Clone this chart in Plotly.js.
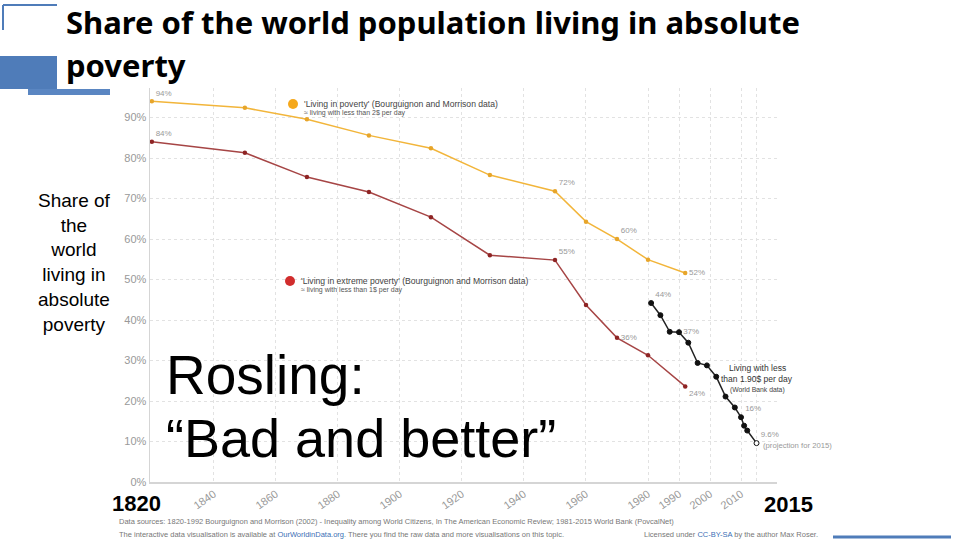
<!DOCTYPE html>
<html>
<head>
<meta charset="utf-8">
<script src="https://cdn.plot.ly/plotly-3.0.1.min.js"></script>
<style>html,body{margin:0;padding:0;background:#fff;}#chart{width:960px;height:540px;}</style>
</head>
<body>
<div id="chart"></div>
<script>
// ---- data ----
const bmYears = [1820, 1850, 1870, 1890, 1910, 1929, 1950, 1960, 1970, 1980, 1992];
const povertyValues = [94, 92.4, 89.6, 85.6, 82.4, 75.8, 71.8, 64.3, 60, 54.9, 51.6];
const povertyLabels = ['94%', '', '', '', '', '', '72%', '', '60%', '', '52%'];
const extremeValues = [84, 81.3, 75.3, 71.6, 65.4, 56, 54.8, 43.7, 35.6, 31.3, 23.6];
const extremeLabels = ['84%', '', '', '', '', '', '55%', '', '36%', '', '24%'];
const wbYears = [1981, 1984, 1987, 1990, 1993, 1996, 1999, 2002, 2005, 2008, 2010, 2011, 2012, 2015];
const wbValues = [44.2, 41.2, 37.1, 37.0, 34.4, 29.4, 28.8, 26.0, 21.1, 18.4, 16.0, 13.9, 12.7, 9.6];
const wbLabels = ['44%', '', '', '37%', '', '', '', '', '', '', '16%', '', '', '9.6%'];
const xTickVals = [1840, 1860, 1880, 1900, 1920, 1940, 1960, 1980, 1990, 2000, 2010, 2015];
const xTickText = ['1840', '1860', '1880', '1900', '1920', '1940', '1960', '1980', '1990', '2000', '2010', ''];
const yTickVals = [0, 10, 20, 30, 40, 50, 60, 70, 80, 90];
const yTickText = ['0%', '10%', '20%', '30%', '40%', '50%', '60%', '70%', '80%', '90%'];

// ---- plot-area geometry (pixels) ----
const L = 150, R = 777, T = 88, B = 482;
const px = x => (x - L) / (R - L);
const py = y => (B - y) / (B - T);

const GRAY = '#999';
const chartFont = 'Liberation Sans, Arial, sans-serif';
const titleFont = 'Noto Sans, Open Sans, sans-serif';

const traces = [
  {
    x: bmYears, y: povertyValues, text: povertyLabels, mode: 'lines+markers+text',
    line: {color: '#f2b53a', width: 1.5},
    marker: {color: '#e7a52a', size: 4.5},
    textposition: ['top right', 'top right', 'top right', 'top right', 'top right', 'top right', 'top right', 'top right', 'top right', 'top right', 'middle right'],
    textfont: {family: chartFont, size: 8, color: GRAY},
    cliponaxis: false, hoverinfo: 'skip'
  },
  {
    x: bmYears, y: extremeValues, text: extremeLabels, mode: 'lines+markers+text',
    line: {color: '#a64545', width: 1.5},
    marker: {color: '#8e2424', size: 4.5},
    textposition: ['top right', 'top right', 'top right', 'top right', 'top right', 'top right', 'top right', 'top right', 'middle right', 'top right', 'bottom right'],
    textfont: {family: chartFont, size: 8, color: GRAY},
    cliponaxis: false, hoverinfo: 'skip'
  },
  {
    x: wbYears, y: wbValues, text: wbLabels, mode: 'lines+markers+text',
    line: {color: '#222', width: 1.5},
    marker: {color: wbYears.map((y, i) => i === wbYears.length - 1 ? '#fff' : '#111'),
             line: {color: '#111', width: 1}, size: 5},
    textposition: ['top right', 'top right', 'top right', 'middle right', 'top right', 'top right', 'top right', 'top right', 'top right', 'top right', 'top right', 'top right', 'top right', 'top right'],
    textfont: {family: chartFont, size: 8, color: GRAY},
    cliponaxis: false, hoverinfo: 'skip'
  }
];

const BLUE = '#4f7cb9';
const shapes = [
  // slide decorations
  {type: 'line', xref: 'paper', yref: 'paper', x0: px(3), x1: px(57), y0: py(5), y1: py(5), line: {color: BLUE, width: 2}},
  {type: 'line', xref: 'paper', yref: 'paper', x0: px(3), x1: px(3), y0: py(5), y1: py(30), line: {color: BLUE, width: 2}},
  {type: 'rect', xref: 'paper', yref: 'paper', x0: px(0), x1: px(57), y0: py(56), y1: py(89), fillcolor: BLUE, line: {width: 0}},
  {type: 'rect', xref: 'paper', yref: 'paper', x0: px(28), x1: px(110), y0: py(89), y1: py(95), fillcolor: '#5a86c2', line: {width: 0}},
  {type: 'line', xref: 'paper', yref: 'paper', x0: px(833), x1: px(951), y0: py(537), y1: py(537), line: {color: BLUE, width: 3}},
  // legend dots
  {type: 'circle', xref: 'paper', yref: 'paper', x0: px(288), x1: px(298), y0: py(99), y1: py(109), fillcolor: '#f5a81c', line: {width: 0}},
  {type: 'circle', xref: 'paper', yref: 'paper', x0: px(285), x1: px(295), y0: py(276), y1: py(286), fillcolor: '#d12d2d', line: {width: 0}}
];

function pa(x, y, text, opts) {
  return Object.assign({xref: 'paper', yref: 'paper', x: px(x), y: py(y), text: text, showarrow: false,
    xanchor: 'left', yanchor: 'middle'}, opts || {});
}

const annotations = [
  pa(64, 22, '<b>Share of the world population living in absolute</b>',
     {font: {family: titleFont, size: 31, color: '#000'}}),
  pa(64, 64.5, '<b>poverty</b>',
     {font: {family: titleFont, size: 31, color: '#000'}}),
  pa(74, 262, 'Share of<br>the<br>world<br>living in<br>absolute<br>poverty',
     {xanchor: 'center', align: 'center', font: {family: chartFont, size: 19, color: '#000'}}),
  pa(164, 375, 'Rosling:', {font: {family: chartFont, size: 55, color: '#000'}}),
  pa(164, 438, '“Bad and better”', {font: {family: chartFont, size: 54, color: '#000'}}),
  pa(302, 104, "'Living in poverty' (Bourguignon and Morrison data)", {font: {family: chartFont, size: 8.6, color: '#444'}}),
  pa(302, 113, '≈ living with less than 2$ per day', {font: {family: chartFont, size: 7, color: '#555'}}),
  pa(299, 281, "'Living in extreme poverty' (Bourguignon and Morrison data)", {font: {family: chartFont, size: 8.6, color: '#444'}}),
  pa(299, 290, '≈ living with less than 1$ per day', {font: {family: chartFont, size: 7, color: '#555'}}),
  pa(757, 368, 'Living with less', {xanchor: 'center', font: {family: chartFont, size: 8.5, color: '#333'}}),
  pa(757, 379, 'than 1.90$ per day', {xanchor: 'center', font: {family: chartFont, size: 8.5, color: '#333'}}),
  pa(757, 389.5, '(World Bank data)', {xanchor: 'center', font: {family: chartFont, size: 6.8, color: '#444'}}),
  pa(761, 445, '(projection for 2015)', {font: {family: chartFont, size: 7.7, color: GRAY}}),
  pa(117, 521.5, 'Data sources: 1820-1992 Bourguignon and Morrison (2002) - Inequality among World Citizens, In The American Economic Review; 1981-2015 World Bank (PovcalNet)',
     {font: {family: chartFont, size: 7.5, color: '#777'}}),
  pa(117, 534, 'The interactive data visualisation is available at <span style="color:#3b6fb5">OurWorldinData.org</span>. There you find the raw data and more visualisations on this topic.',
     {font: {family: chartFont, size: 7.5, color: '#777'}}),
  pa(642, 534, 'Licensed under <span style="color:#3b6fb5">CC-BY-SA</span> by the author Max Roser.',
     {font: {family: chartFont, size: 7.5, color: '#777'}}),
  pa(110, 503.5, '<b>1820</b>', {font: {family: chartFont, size: 22, color: '#000'}}),
  pa(762, 505, '<b>2015</b>', {bgcolor: '#fff', font: {family: chartFont, size: 22, color: '#000'}})
];

const layout = {
  width: 960, height: 540,
  margin: {l: L, r: 960 - R, t: T, b: 540 - B},
  paper_bgcolor: '#fff', plot_bgcolor: '#fff',
  showlegend: false,
  xaxis: {
    range: [1819.4, 2021.6], tickvals: xTickVals, ticktext: xTickText, tickangle: -35,
    tickfont: {family: chartFont, size: 11, color: GRAY},
    showgrid: true, gridcolor: '#e2e2e2', griddash: 'dot', gridwidth: 1,
    showline: true, linecolor: '#d5d5d5', linewidth: 1.5, zeroline: false, ticks: ''
  },
  yaxis: {
    range: [0, 97.3], tickvals: yTickVals, ticktext: yTickText,
    tickfont: {family: chartFont, size: 11, color: GRAY},
    showgrid: true, gridcolor: '#e2e2e2', griddash: 'dot', gridwidth: 1,
    showline: true, linecolor: '#d5d5d5', linewidth: 1.5, zeroline: false, ticks: ''
  },
  shapes: shapes,
  annotations: annotations
};

Plotly.newPlot('chart', traces, layout, {displayModeBar: false, staticPlot: true});
</script>
</body>
</html>
